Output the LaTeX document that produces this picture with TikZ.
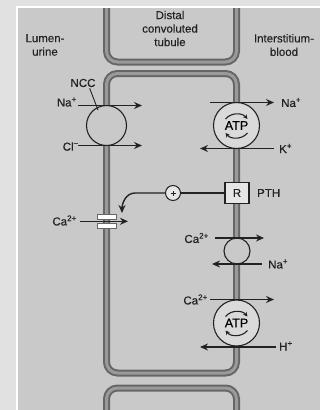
\documentclass[tikz,border=0pt]{standalone}
\usepackage{fontspec}
\setmainfont{Liberation Sans}[FakeBold=0.35]
\usetikzlibrary{arrows.meta}
\definecolor{outerbg}{HTML}{E1E1E1}
\definecolor{panel}{HTML}{C9C9C9}
\definecolor{memdark}{HTML}{666666}
\definecolor{memlight}{HTML}{9A9A9A}
\definecolor{ink}{HTML}{222222}
\definecolor{pumpfill}{HTML}{DADADA}
\definecolor{boxfill}{HTML}{E6E6E6}
\tikzset{
  memb/.style={draw=memdark, line width=2pt, double=memlight, double distance=3pt, rounded corners=11pt},
  pump/.style={circle, draw=ink, line width=1.1pt, fill=panel, inner sep=0pt},
  flow/.style={draw=ink, line width=1.4pt, -{Stealth[length=8pt,width=7pt]}},
  rot/.style={draw=ink, line width=1.1pt, -{Stealth[length=4.5pt,width=4.5pt]}},
  lbl/.style={inner sep=0pt, text=ink},
}
\begin{document}
\begin{tikzpicture}[x=1pt,y=-1pt, font=\fontsize{11.5}{13.5}\selectfont]
\fill[outerbg] (0,0) rectangle (320,410);
\useasboundingbox (0,0) rectangle (320,410);
\fill[white] (16,6) rectangle (320,410);
\fill[panel] (18,8) rectangle (320,410);

% membranes
\draw[memb] (106.5,8) -- (106.5,62) -- (236.5,62) -- (236.5,8);
\draw[memb] (106.5,73.5) rectangle (236.5,373);
\draw[memb] (106.5,414) -- (106.5,388) -- (236.5,388) -- (236.5,414);

% region labels
\node[lbl, align=center] (lumen) at (45,45) {Lumen-\\urine};
\node[lbl, align=center] (dct) at (170,28.5) {Distal\\convoluted\\tubule};
\node[lbl, align=center] (inter) at (284,45) {Interstitium-\\blood};

% NCC cotransporter
\node[pump, minimum size=40pt] (ncc) at (106.5,125.5) {};
\node[lbl] (ncclbl) at (83,83) {NCC};
\coordinate (nccpt) at (98,110);
\draw[ink, line width=0.9pt] (ncclbl.south east) ++(-6,1) coordinate (ncctail) (ncctail) -- (nccpt);
\node[lbl, anchor=east] (naL) at (77,102) {Na\textsuperscript{+}};
\node[lbl, anchor=east] (clL) at (79,146.5) {Cl\textsuperscript{−}};
\coordinate (naLs) at (78,105.5);
\coordinate (naLe) at (142,105.5);
\coordinate (clLs) at (78,145.5);
\coordinate (clLe) at (142,145.5);
\draw[flow] (naLs) -- (naLe);
\draw[flow] (clLs) -- (clLe);

% Na/K ATPase
\node[pump, fill=pumpfill, minimum size=46pt, font=\fontsize{12.5}{14}\selectfont] (atp1) at (236.5,125.5) {ATP};
\draw[rot] ([shift={(-11,-6.5)}]atp1.center) to[bend left=50] ([shift={(11,-6.5)}]atp1.center);
\draw[rot] ([shift={(11,7.5)}]atp1.center) to[bend left=50] ([shift={(-11,7.5)}]atp1.center);
\node[lbl, anchor=west] (naR) at (281,102.5) {Na\textsuperscript{+}};
\node[lbl, anchor=west] (kR) at (279,148.5) {K\textsuperscript{+}};
\coordinate (naRs) at (210,102.5);
\coordinate (naRe) at (274,102.5);
\coordinate (kRs) at (274,148.5);
\coordinate (kRe) at (200,148.5);
\draw[flow] (naRs) -- (naRe);
\draw[flow] (kRs) -- (kRe);

% PTH receptor
\node[draw=ink, line width=1.1pt, fill=boxfill, minimum width=24pt, minimum height=21pt, inner sep=0pt, text=ink] (rbox) at (237,193) {R};
\node[lbl, anchor=west] (pth) at (257,193) {PTH};
\node[circle, draw=ink, line width=1pt, fill=boxfill, minimum size=15pt, inner sep=0pt] (cp) at (173,193) {};
\draw[ink, line width=1pt] ([xshift=-2.5pt]cp.center) -- ([xshift=2.5pt]cp.center);
\draw[ink, line width=1pt] ([yshift=-2.5pt]cp.center) -- ([yshift=2.5pt]cp.center);
\draw[ink, line width=1.2pt] (rbox.west) -- (cp.east);
\coordinate (bendpt) at (135,193);
\coordinate (chtarget) at (122,213);
\draw[flow] (cp.west) -- (bendpt) to[out=180, in=90] (chtarget);

% Ca channel
\node[draw=memdark, line width=0.7pt, fill=white, minimum width=19pt, minimum height=5pt, inner sep=0pt] (chtop) at (106.5,217) {};
\node[draw=memdark, line width=0.7pt, fill=white, minimum width=19pt, minimum height=5pt, inner sep=0pt] (chbot) at (106.5,225.5) {};
\node[lbl, anchor=east] (caL) at (77,220.5) {Ca\textsuperscript{2+}};
\coordinate (caLs) at (80,221.3);
\coordinate (caLe) at (128,221.3);
\draw[flow] (caLs) -- (caLe);

% Na/Ca exchanger
\node[pump, minimum size=26pt] (ncx) at (237,251) {};
\node[lbl, anchor=east] (caX) at (209,238) {Ca\textsuperscript{2+}};
\node[lbl, anchor=west] (naX) at (268,264) {Na\textsuperscript{+}};
\coordinate (caXs) at (215,238);
\coordinate (caXe) at (264,238);
\coordinate (naXs) at (262,264);
\coordinate (naXe) at (212,264);
\draw[flow] (caXs) -- (caXe);
\draw[flow] (naXs) -- (naXe);

% Ca/H ATPase
\node[pump, fill=pumpfill, minimum size=46pt, font=\fontsize{12.5}{14}\selectfont] (atp2) at (236.5,323) {ATP};
\draw[rot] ([shift={(-11,-6.5)}]atp2.center) to[bend left=50] ([shift={(11,-6.5)}]atp2.center);
\draw[rot] ([shift={(11,7.5)}]atp2.center) to[bend left=50] ([shift={(-11,7.5)}]atp2.center);
\node[lbl, anchor=east] (caB) at (208,299.5) {Ca\textsuperscript{2+}};
\node[lbl, anchor=west] (hB) at (279,346) {H\textsuperscript{+}};
\coordinate (caBs) at (210,299.5);
\coordinate (caBe) at (274,299.5);
\coordinate (hBs) at (276,347);
\coordinate (hBe) at (200,347);
\draw[flow] (caBs) -- (caBe);
\draw[flow] (hBs) -- (hBe);
\end{tikzpicture}
\end{document}
